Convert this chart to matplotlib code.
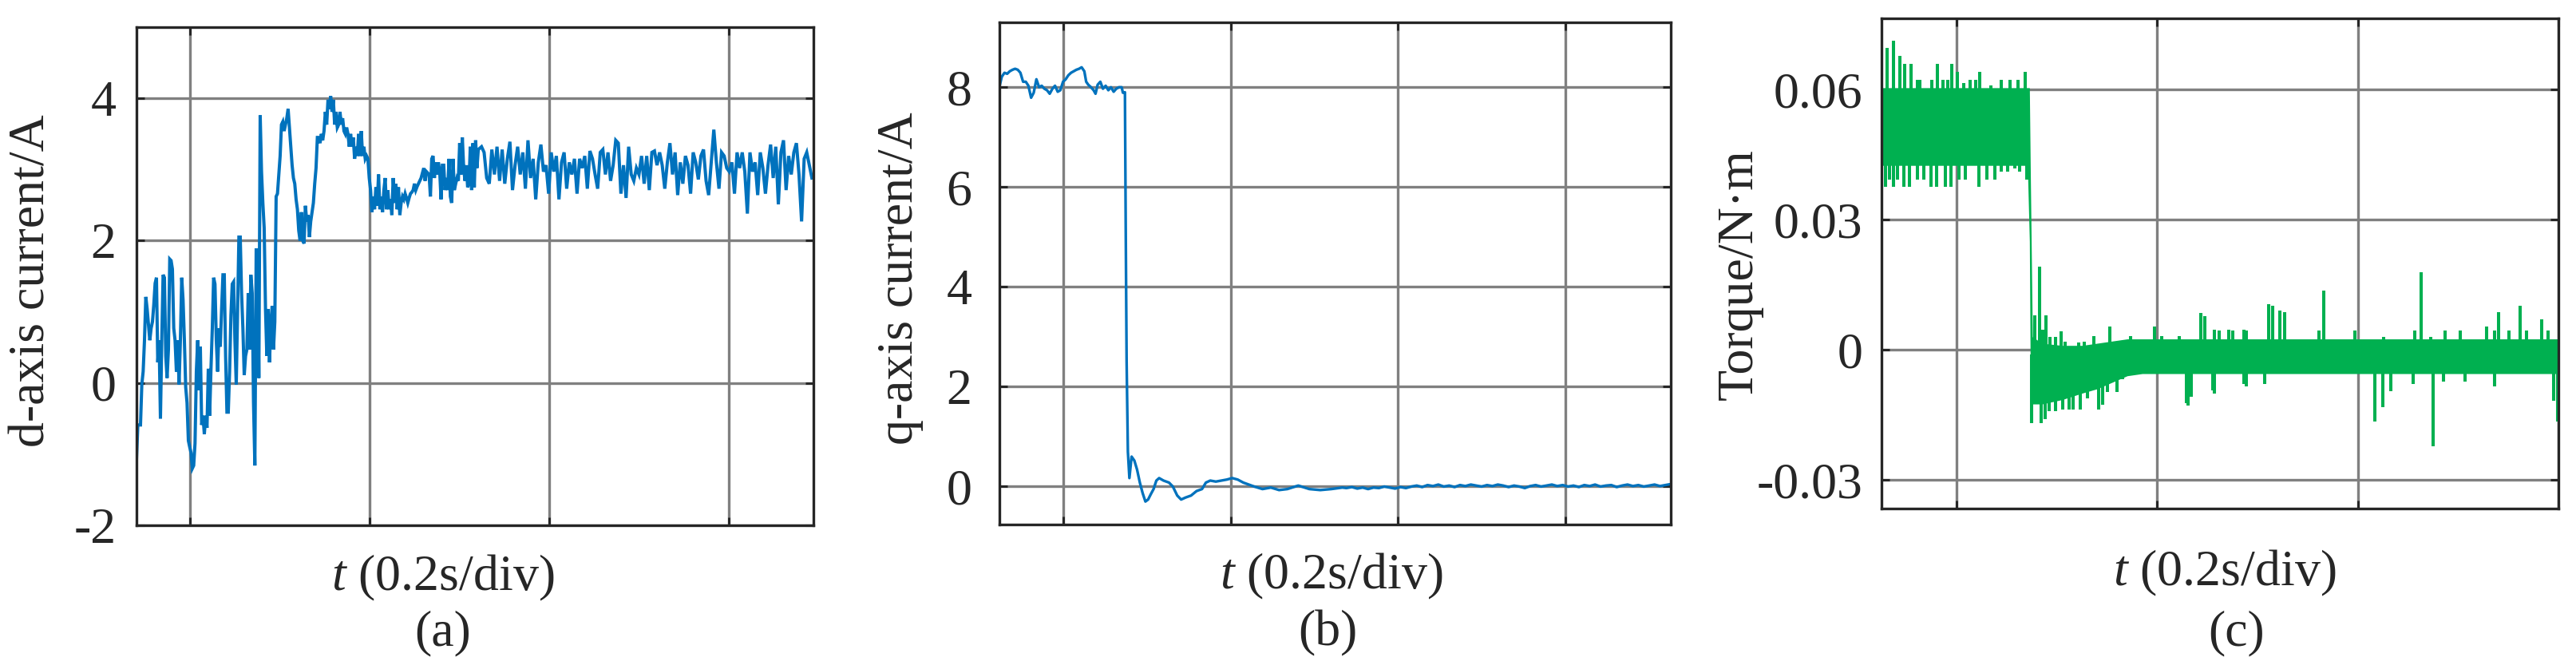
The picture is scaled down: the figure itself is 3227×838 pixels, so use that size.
import numpy as np
import matplotlib
matplotlib.use('Agg')
import matplotlib.pyplot as plt

plt.rcParams['font.family'] = ['Liberation Serif', 'DejaVu Serif']
plt.rcParams['mathtext.fontset'] = 'custom'
plt.rcParams['mathtext.rm'] = 'Liberation Serif'
plt.rcParams['mathtext.it'] = 'Liberation Serif:italic'

BLUE = '#0072BD'
GREEN = '#00B050'
DARK = '#262626'
GRID = '#808080'

# ---------------- (a) d-axis current (time in ms) ----------------
a_seg1 = [-1.07, -0.59, -0.59, -0.59, -0.02, 0.16, 0.6, 1.21, 1.04, 0.82, 0.6, 0.77, 0.86, 1.1, 1.4, 1.48,
          0.29, 0.6, -0.5, 0.6, 1.52, 1.48, 0.38, 0.07, 0.47, 1.74, 1.72, 1.6, 0.77, 0.6, 0.16, 0.6, -0.02,
          0.6, 1.48, 1.17, 0.6, -0.06, -0.28, -0.81, -0.9, -0.98, -1.2, -1.16, -0.85, 0.16, 0.6, -0.1, 0.51,
          -0.59, -0.46, -0.72, -0.46, -0.63, 0.2, -0.46, 0.2, 0.77, 1.48, 1.39, 0.6, 0.16, 0.77, 0.51, 1.04,
          1.52, 1.52, 0.38, -0.41, -0.41, 0.16, 0.95, 1.39, 1.42, 0.6, -0.02, 1.04, 2.05, 2.05, 1.26, 0.77,
          0.11, 0.38, 0.47, 1.26, 0.47, 1.52, 1.26, -0.28, -1.16, 1.87, 1.87, 0.07, 3.76, 2.97, 2.53, 2.18,
          1.04, 0.38, 1.04, 0.29, 0.82, 1.08, 0.47, 0.86, 2.62, 2.66, 2.93, 3.19, 3.63, 3.67, 3.54, 3.63,
          3.72, 3.85, 3.59, 3.32, 3.06, 2.88, 2.80, 2.58, 2.44, 2.14, 2.0, 2.40, 2.0, 1.96, 2.49, 2.27, 2.36,
          2.05, 2.27, 2.40, 2.53, 2.80, 3.02, 3.45, 3.45, 3.37, 3.5, 3.41, 3.54, 3.81, 3.63, 3.98, 3.85, 4.03,
          3.81, 3.98, 3.63, 3.81, 3.59, 3.63, 3.81, 3.63, 3.72, 3.54, 3.5, 3.59, 3.5, 3.32, 3.5, 3.32, 3.45,
          3.15, 3.32, 3.19, 3.5, 3.19, 3.54, 3.19, 3.32, 3.15, 3.19, 3.15, 2.88, 2.71, 2.40, 2.62, 2.44, 2.75,
          2.49, 2.93, 2.44, 2.62, 2.40, 2.71, 2.88, 2.44, 2.71, 2.44, 2.58, 2.36, 2.88, 2.53, 2.80, 2.44, 2.75,
          2.36, 2.53, 2.62, 2.58, 2.66, 2.6, 2.53, 2.6, 2.66, 2.68, 2.71, 2.80, 2.71, 2.76, 2.80, 2.84, 2.88,
          2.95, 3.02, 2.84, 2.97, 2.95, 2.93, 2.62, 3.15, 3.19, 2.88, 3.10, 2.93, 3.10, 2.97, 2.58, 3.06, 3.06,
          2.71, 2.88, 2.71, 3.15, 2.62, 2.53, 3.15, 2.71, 2.80, 2.88, 2.84, 3.37, 2.93, 3.45, 3.02, 2.84, 3.06,
          2.75, 2.80, 3.32, 2.71, 3.37, 2.75, 3.41, 3.02, 3.28]
a_seg1_span = (0.0, 380.7)
a_seg2 = [3.32, 3.24, 2.88, 2.80, 3.28, 2.93, 3.32, 2.84, 3.28, 2.80, 3.15, 3.39, 2.71, 3.06, 3.32, 2.93,
          3.24, 2.73, 3.41, 2.88, 3.15, 2.58, 3.10, 3.35, 2.97, 3.06, 2.66, 3.24, 2.97, 3.19, 2.58, 3.10,
          3.24, 2.73, 3.10, 2.93, 3.15, 2.66, 3.15, 3.02, 3.19, 2.73, 3.26, 3.15, 2.93, 2.73, 3.24, 3.28,
          2.93, 3.24, 2.84, 3.06, 3.41, 3.37, 2.66, 3.06, 2.60, 3.32, 2.93, 2.84, 3.02, 2.93, 3.19, 2.80,
          3.19, 2.71, 3.24, 3.26, 3.06, 3.24, 3.06, 2.73, 3.10, 3.37, 2.93, 3.24, 2.64, 3.10, 2.80, 3.19,
          3.06, 2.66, 3.24, 3.10, 2.86, 3.19, 3.28, 2.84, 2.64, 3.10, 3.56, 3.10, 2.73, 3.24, 3.19, 3.02,
          2.97, 3.10, 2.66, 3.24, 3.02, 3.24, 2.97, 2.38, 3.24, 2.97, 3.10, 2.64, 3.24, 3.02, 2.66, 3.06,
          3.35, 2.88, 3.32, 2.51, 3.24, 3.41, 2.71, 3.19, 2.93, 3.24, 3.37, 2.93, 2.27, 3.15, 3.24, 3.06, 2.88]
a_seg2_span = (384.3, 752.3)
a_xlim = (0, 754)
a_xticks = [60, 260, 460, 660]
a_ylim = (-2, 5)
a_yticks = [-2, 0, 2, 4]
a_yticklabels = ['-2', '0', '2', '4']

# ---------------- (b) q-axis current (time in ms) ----------------
b_t = [0, 0.3, 2.8, 6.0, 9.2, 12.3, 15.5, 18.6, 21.8, 24.9, 28.1, 31.3, 34.4, 37.6, 40.7, 43.9, 47.1, 50.2,
       53.4, 56.5, 59.7, 62.9, 66.0, 69.2, 72.3, 75.5, 78.7, 81.8, 85.0, 88.1, 91.3, 94.5, 97.6, 100.8,
       103.0, 105.5, 108.7, 111.8, 114.1, 116.6, 119.8, 122.9, 126.1, 129.3, 132.4, 135.6, 138.7, 141.9,
       145.1, 146.6, 149.0, 150.0, 151.0, 152.5, 154.3, 156.9, 160.2, 163.4, 166.7, 170.0, 173.3, 176.5,
       179.8, 183.0, 186.3, 189.6, 194.8, 201.3, 205.9, 211.1, 215.7, 220.9, 227.5, 234.0, 240.5, 245.1,
       250.3, 256.9, 263.4, 269.9, 276.4, 282.9, 289.5, 296.0, 302.6, 312.3, 322.2, 332.0, 341.8, 354.8,
       367.9, 380.9, 394.0, 407.1]
b_v = [7.95, 8.03, 8.21, 8.29, 8.27, 8.32, 8.35, 8.37, 8.35, 8.29, 8.11, 8.11, 8.03, 7.79, 7.89, 8.16, 8.0,
       8.03, 7.97, 7.94, 7.87, 7.97, 8.03, 7.91, 7.94, 8.11, 8.16, 8.24, 8.29, 8.32, 8.35, 8.37, 8.40, 8.32,
       8.11, 8.05, 8.0, 7.94, 7.87, 8.05, 8.11, 7.97, 8.03, 7.94, 8.0, 7.91, 7.97, 8.0, 8.0, 7.89,
       7.9, 5.0, 2.5, 0.7, 0.17, 0.6, 0.52, 0.34, 0.08, -0.13, -0.30, -0.26, -0.15, -0.05, 0.12, 0.17, 0.12,
       0.08, 0.0, -0.18, -0.26, -0.22, -0.18, -0.09, -0.05, 0.08, 0.12, 0.10, 0.12, 0.14, 0.17, 0.14, 0.08,
       0.04, 0.0, -0.05, -0.02, -0.07, -0.05, 0.02, -0.05, -0.07, -0.05, -0.02]
b_tail = [-0.03, -0.01, -0.04, -0.02, -0.05, -0.02, -0.03, 0.0, -0.02, -0.04, -0.01, -0.03, 0.0, 0.02, -0.01,
          0.03, 0.01, 0.04, 0.0, 0.02, -0.01, 0.03, 0.01, 0.04, 0.02, 0.0, 0.03, 0.01, 0.04, 0.02, -0.01,
          0.02, 0.0, -0.03, 0.01, 0.03, 0.0, 0.02, 0.04, 0.01, 0.03, 0.0, 0.02, -0.01, 0.03, 0.01, 0.04, 0.0,
          0.02, 0.03, -0.01, 0.02, 0.04, 0.01, 0.03, 0.0, 0.02, 0.04, 0.01, 0.03, 0.05]
b_tail_span = (412, 797)
b_xlim = (0, 797)
b_xticks = [76, 274.5, 473, 671.5]
b_ylim = (-0.76, 9.3)
b_yticks = [0, 2, 4, 6, 8]
b_yticklabels = ['0', '2', '4', '6', '8']

# ---------------- (c) torque (time in ms) ----------------
tq_band_t = [0, 145.5, 147.5, 148.5, 150.5, 160, 180, 200, 215, 230, 245, 260, 675]
tq_band_hi = [0.0604, 0.0604, 0.0604, 0.040, 0.003, 0.0015, 0.001, 0.001, 0.0015, 0.002, 0.0025, 0.0025, 0.0025]
tq_band_lo = [0.0425, 0.0425, 0.025, -0.010, -0.0125, -0.0125, -0.0115, -0.010, -0.009, -0.0075, -0.006,
              -0.0055, -0.0055]
tq_up_t = [5.8, 11.9, 18.0, 23.3, 29.7, 35.8, 38.5, 49.9, 55.7, 61.5, 66.3, 69.8, 75.6, 82.2, 88.3, 94.2,
           97.6, 108.8, 119.4, 127.9, 135.8, 143.3,
           152.5, 157.9, 160.5, 164.0, 167.7, 173.8, 179.1, 183.1, 196.3, 202.2, 211.7, 227.4, 248, 272, 279,
           297, 318, 322, 332, 337, 346, 350, 361, 364, 386, 390, 397, 402, 436, 441, 472, 501, 532, 538, 548,
           562, 577, 603, 611, 615, 626, 637, 643, 658, 665]
tq_up_v = [0.0695, 0.0713, 0.0677, 0.0659, 0.0659, 0.0623, 0.0623, 0.0623, 0.0659, 0.0623, 0.0623, 0.0659,
           0.0641, 0.0615, 0.0623, 0.0623, 0.0641, 0.0610, 0.0623, 0.0623, 0.0623, 0.0641,
           0.0079, 0.0191, 0.0047, 0.0079, 0.0029, 0.0029, 0.0043, 0.0018, 0.0017, 0.0018, 0.0032, 0.0054,
           0.0032, 0.0054, 0.0032, 0.0032, 0.0084, 0.0077, 0.0047, 0.0045, 0.0047, 0.0045, 0.0047, 0.0045,
           0.0105, 0.0102, 0.0090, 0.0087, 0.0045, 0.0136, 0.0045, 0.0030, 0.0045, 0.0178, 0.0030, 0.0045,
           0.0045, 0.0053, 0.0045, 0.0087, 0.0045, 0.0102, 0.0045, 0.0070, 0.0045]
tq_dn_t = [4.0, 8.0, 11.9, 15.9, 22.6, 27.9, 35.8, 41.9, 49.1, 55.2, 63.7, 69.5, 76.9, 83.6, 96.8, 104.8,
           112.8, 119.4, 126.0, 132.7, 137.4, 144.6,
           149.9, 159.2, 163.2, 167.1, 173.8, 180.4, 187.0, 191.0, 198.4, 205.6, 216.2, 220.2, 225.5, 234.8,
           240.1, 304, 306, 309, 330, 332, 361, 364, 382, 492, 500, 508, 530, 550, 560, 582, 611, 670, 674]
tq_dn_v = [0.0375, 0.0393, 0.0375, 0.0393, 0.0375, 0.0375, 0.0393, 0.0393, 0.0375, 0.0375, 0.0375, 0.0375,
           0.0393, 0.0393, 0.0375, 0.0393, 0.0393, 0.0411, 0.0411, 0.0418, 0.0411, 0.0393,
           -0.0169, -0.0169, -0.0159, -0.0141, -0.0141, -0.0137, -0.0137, -0.0137, -0.0137, -0.0112, -0.0137,
           -0.0126, -0.0097, -0.0097, -0.0068, -0.0123, -0.0128, -0.0108, -0.0094, -0.0101, -0.0079, -0.0084,
           -0.0079, -0.0165, -0.0133, -0.0095, -0.0079, -0.0222, -0.0074, -0.0074, -0.0084, -0.0118, -0.0165]
tq_step_t = 148.0
c_xlim = (0, 675)
c_xticks = [75, 275, 475, 675]
c_ylim = (-0.0366, 0.0764)
c_yticks = [-0.03, 0, 0.03, 0.06]
c_yticklabels = ['-0.03', '0', '0.03', '0.06']

# ---------------- figure ----------------
W, H = 3227, 838
fig = plt.figure(figsize=(W / 100, H / 100), dpi=100)


def box(l, t, r, b):
    return [l / W, 1 - b / H, (r - l) / W, (b - t) / H]


def style(ax, xlim, xticks, ylim, yticks, ylabels, pad):
    ax.set_xlim(xlim)
    ax.set_ylim(ylim)
    ax.set_xticks(xticks)
    ax.set_xticklabels([])
    ax.set_yticks(yticks)
    ax.set_yticklabels(ylabels)
    ax.set_axisbelow(True)
    ax.grid(True, color=GRID, lw=2.4)
    ax.tick_params(direction='in', length=7, width=2.2, color=DARK, top=True, right=True,
                   labelsize=46, pad=pad, labelcolor=DARK)
    for s in ax.spines.values():
        s.set_linewidth(2.4)
        s.set_color(DARK)
        s.set_zorder(5)


axA = fig.add_axes(box(171, 34, 1019, 658))
axB = fig.add_axes(box(1252, 28, 2093, 657))
axC = fig.add_axes(box(2357, 23, 3205, 637))

# (a)
tA = np.concatenate([np.linspace(*a_seg1_span, len(a_seg1)), np.linspace(*a_seg2_span, len(a_seg2))])
vA = np.concatenate([a_seg1, a_seg2])
axA.plot(tA, vA, color=BLUE, lw=2.9, solid_joinstyle='miter')
style(axA, a_xlim, a_xticks, a_ylim, a_yticks, a_yticklabels, 18.5)

# (b)
tB = np.concatenate([b_t, np.linspace(*b_tail_span, len(b_tail))])
vB = np.concatenate([b_v, b_tail])
axB.plot(tB, vB, color=BLUE, lw=2.4)
style(axB, b_xlim, b_xticks, b_ylim, b_yticks, b_yticklabels, 25)

# (c)
axC.fill_between(tq_band_t, tq_band_lo, tq_band_hi, color=GREEN, lw=0, zorder=2)
up_t = np.array(tq_up_t)
dn_t = np.array(tq_dn_t)
axC.vlines(up_t, np.where(up_t < tq_step_t, 0.051, -0.001), tq_up_v, color=GREEN, lw=2.9, zorder=2)
axC.vlines(dn_t, np.where(dn_t < tq_step_t, 0.051, -0.001), tq_dn_v, color=GREEN, lw=2.9, zorder=2)
style(axC, c_xlim, c_xticks, c_ylim, c_yticks, c_yticklabels, 17)

# labels
def ft(x, y, s, **kw):
    fig.text(x / W, 1 - y / H, s, fontsize=46, color=DARK, ha='center', va='center', **kw)


ft(41, 352, 'd-axis current/A', rotation=90)
ft(1128, 349, 'q-axis current/A', rotation=90)
ft(2180, 344, 'Torque/N·m', rotation=90)
for xc, yc in [(555, 724), (1668, 722), (2787, 718)]:
    ft(xc, yc, r'$\mathit{t}$ (0.2s/div)')
for xc, s in [(555, '(a)'), (1663, '(b)'), (2802, '(c)')]:
    ft(xc, 793, s)

fig.savefig('out.png', dpi=100)
